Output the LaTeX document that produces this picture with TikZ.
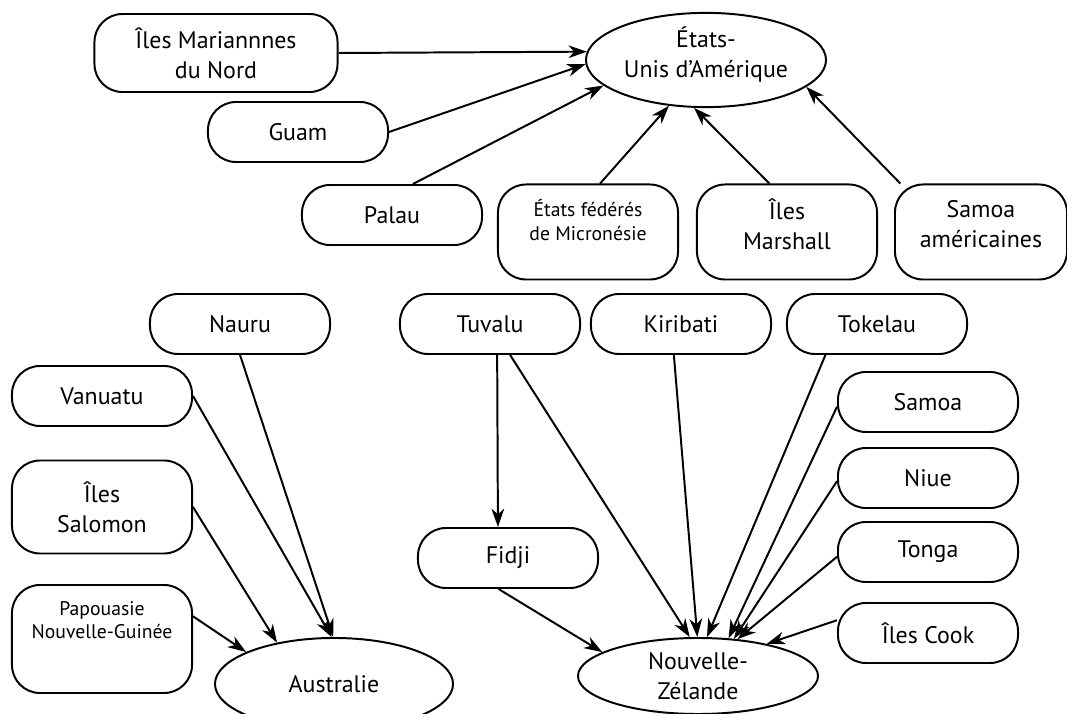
\documentclass[tikz,border=0pt]{standalone}
\usepackage{fontspec}
\setmainfont{PT Sans}
\usetikzlibrary{arrows.meta, shapes.geometric}

\begin{document}
\begin{tikzpicture}[x=0.025cm, y=-0.025cm, ->, >={Stealth[length=13pt,width=9pt,inset=4pt]}, line width=1.4pt, font=\fontsize{17}{21.3}\selectfont]
	\tikzstyle{pays}=[rectangle, rounded corners=0.7cm, draw=black, align=center, minimum width=4.5cm, minimum height=1.5cm, inner sep=0pt]
	\tikzstyle{haut}=[pays, minimum height=2.375cm]
	\tikzstyle{petit}=[font=\fontsize{14}{17}\selectfont]
	\tikzstyle{tuteur}=[ellipse, draw=black, align=center, minimum width=6cm, minimum height=2cm, inner sep=0pt]

	\useasboundingbox (0,0) rectangle (1067,714);

	% Etats-Unis et territoires
	\node[tuteur, minimum height=2.05cm] (usa) at (706,60) {États-\\Unis d'Amérique\\[-10pt]\mbox{}};
	\node[pays, minimum width=6.075cm, minimum height=1.95cm] (mar) at (216,53) {Îles Mariannnes\\du Nord};
	\node[pays] (guam) at (298,132) {Guam};
	\node[pays] (palau) at (392,215) {Palau};
	\node[haut, petit] (micro) at (588,232) {États fédérés\\de Micronésie\\\mbox{}};
	\node[haut] (marshall) at (787,232) {Îles\\Marshall\\[-10pt]\mbox{}};
	\node[haut, minimum width=4.3cm] (samam) at (981,232) {Samoa\\américaines\\[-10pt]\mbox{}};

	% Australie
	\node[pays] (nauru) at (240,324) {Nauru};
	\node[pays] (vanuatu) at (102,396) {Vanuatu};
	\node[pays, minimum height=2.325cm] (salomon) at (102,507) {Îles\\Salomon};
	\node[pays, petit, minimum height=2.7cm] (papouasie) at (102,639) {Papouasie\\Nouvelle-Guinée\\[10pt]\mbox{}};
	\node[tuteur, minimum width=5.95cm, minimum height=2.3cm] (australie) at (334,684) {Australie};

	% Nouvelle-Zelande
	\node[pays] (tuvalu) at (490,324) {Tuvalu};
	\node[pays] (kiribati) at (681,324) {Kiribati};
	\node[pays] (tokelau) at (877,324) {Tokelau};
	\node[pays] (samoa) at (928,402) {Samoa};
	\node[pays] (niue) at (928,478) {Niue};
	\node[pays] (tonga) at (928,552) {Tonga};
	\node[pays] (cook) at (928,633) {Îles Cook};
	\node[pays] (fidji) at (508,558) {Fidji};
	\node[tuteur, minimum height=1.9cm] (nz) at (698,676) {Nouvelle-\\Zélande};

	\path (mar.east) edge (usa.176)
	(guam.east) edge (usa.182)
	(palau.56) edge (usa.194)
	(micro.76) edge (usa.231)
	(marshall.110) edge (usa.256)
	(samam.149) edge (usa.345)
	(nauru.south) edge (australie.91)
	(vanuatu.east) edge (australie.93)
	(salomon.east) edge (australie.144)
	(papouasie.14) edge (australie.160)
	(tuvalu.283) edge (fidji.108)
	(tuvalu.303) edge (nz.102)
	(kiribati.257) edge (nz.91)
	(tokelau.211) edge (nz.77)
	(samoa.183) edge (nz.51)
	(niue.182) edge (nz.46)
	(tonga.183) edge (nz.43)
	(cook.172) edge (nz.25)
	(fidji.253) edge (nz.166);
\end{tikzpicture}
\end{document}
